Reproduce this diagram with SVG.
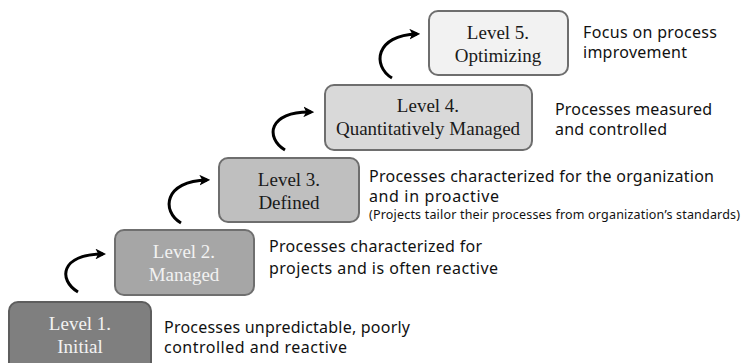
<svg xmlns="http://www.w3.org/2000/svg" width="742" height="363" viewBox="0 0 742 363">
  <defs>
    <marker id="head" viewBox="0 0 10 10" refX="7" refY="5" markerWidth="3.6" markerHeight="3.6" orient="auto" markerUnits="strokeWidth">
      <path d="M0,0 L10,5 L0,10 L2.5,5 Z" fill="#000"/>
    </marker>
  </defs>
  <style>
    .box { stroke-width: 2; }
    .lbl { font-family: "Liberation Serif", "Times New Roman", serif; font-size: 19px; text-anchor: middle; }
    .light { fill: #f2f2f2; }
    .dark { fill: #1a1a1a; }
    .desc { font-family: "Noto Sans", "Liberation Sans", sans-serif; font-size: 16px; fill: #111; }
    .small { font-family: "Noto Sans", "Liberation Sans", sans-serif; font-size: 12.5px; fill: #111; }
    .arc { fill: none; stroke: #000; stroke-width: 3; marker-end: url(#head); }
  </style>
  <rect width="742" height="363" fill="#fff"/>

  <!-- curved step arrows between levels -->
  <g id="connectors">
    <path class="arc" d="M78,292 C58,280 60,254 103,254"/>
    <path class="arc" d="M181,223 C161,211 164,181 207,180"/>
    <path class="arc" d="M285,150 C265,138 268,111 311,112"/>
    <path class="arc" d="M392,78 C372,66 375,35 417,34"/>
  </g>

  <g id="level1">
    <rect class="box" x="9" y="302" width="142" height="70" rx="9" fill="#7f7f7f" stroke="#5e5e5e"/>
    <text class="lbl light" x="80" y="330">Level 1.</text>
    <text class="lbl light" x="80" y="353">Initial</text>
  </g>
  <g id="level2">
    <rect class="box" x="115" y="230" width="139" height="65" rx="9" fill="#a6a6a6" stroke="#6f6f6f"/>
    <text class="lbl light" x="184" y="258">Level 2.</text>
    <text class="lbl light" x="184" y="281">Managed</text>
  </g>
  <g id="level3">
    <rect class="box" x="219" y="158" width="140" height="64" rx="9" fill="#bfbfbf" stroke="#6e6e6e"/>
    <text class="lbl dark" x="289" y="186">Level 3.</text>
    <text class="lbl dark" x="289" y="209">Defined</text>
  </g>
  <g id="level4">
    <rect class="box" x="325" y="85" width="207" height="65" rx="9" fill="#d9d9d9" stroke="#6e6e6e"/>
    <text class="lbl dark" x="428" y="112">Level 4.</text>
    <text class="lbl dark" x="428" y="135">Quantitatively Managed</text>
  </g>
  <g id="level5">
    <rect class="box" x="429" y="11" width="139" height="64" rx="9" fill="#f2f2f2" stroke="#6e6e6e"/>
    <text class="lbl dark" x="498" y="39">Level 5.</text>
    <text class="lbl dark" x="498" y="62">Optimizing</text>
  </g>

  <g id="descriptions">
    <text class="desc" x="583" y="38" textLength="134" lengthAdjust="spacing">Focus on process</text>
    <text class="desc" x="583" y="58" textLength="104" lengthAdjust="spacing">improvement</text>
    <text class="desc" x="555" y="115" textLength="157" lengthAdjust="spacing">Processes measured</text>
    <text class="desc" x="555" y="135" textLength="112" lengthAdjust="spacing">and controlled</text>
    <text class="desc" x="369" y="182" textLength="345" lengthAdjust="spacing">Processes characterized for the organization</text>
    <text class="desc" x="369" y="202" textLength="130" lengthAdjust="spacing">and in proactive</text>
    <text class="small" x="369" y="219" textLength="371" lengthAdjust="spacing">(Projects tailor their processes from organization’s standards)</text>
    <text class="desc" x="269" y="252" textLength="213" lengthAdjust="spacing">Processes characterized for</text>
    <text class="desc" x="269" y="274" textLength="229" lengthAdjust="spacing">projects and is often reactive</text>
    <text class="desc" x="164" y="333" textLength="246" lengthAdjust="spacing">Processes unpredictable, poorly</text>
    <text class="desc" x="164" y="353" textLength="183" lengthAdjust="spacing">controlled and reactive</text>
  </g>
</svg>
